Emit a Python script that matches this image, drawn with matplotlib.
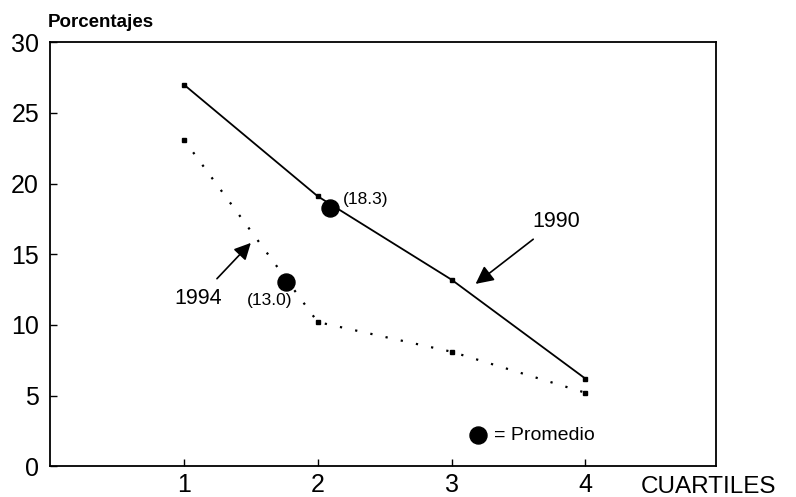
import matplotlib.pyplot as plt

plt.rcParams['font.family'] = ['Liberation Sans', 'DejaVu Sans']

# datos
cuartiles = [1, 2, 3, 4]
serie_1990 = [27.0, 19.1, 13.2, 6.2]
serie_1994 = [23.1, 10.2, 8.1, 5.2]
promedio_x = [2.09, 1.76]
promedio_y = [18.3, 13.0]
promedio_txt = ['(18.3)', '(13.0)']

fig = plt.figure(figsize=(7.96, 4.97), dpi=100)
ax = fig.add_axes([0.063, 0.062, 0.837, 0.853])

ax.plot(cuartiles, serie_1990, color='black', lw=1.3, marker='s', ms=3.5)
ax.plot(cuartiles, serie_1994, color='black', lw=1.6, linestyle=(0, (1, 6)),
        marker='s', ms=3.5)
ax.scatter(promedio_x, promedio_y, s=150, color='black', zorder=5)

ax.text(promedio_x[0] + 0.1, promedio_y[0] + 0.6, promedio_txt[0], fontsize=12.5,
        va='center', ha='left')
ax.text(promedio_x[1] - 0.12, promedio_y[1] - 1.3, promedio_txt[1], fontsize=12.5,
        va='center', ha='center')

# flechas de las series
ax.annotate('1990', xy=(3.18, 12.9), xytext=(3.78, 17.3), fontsize=15.5,
            ha='center', va='center',
            arrowprops=dict(arrowstyle='-|>', color='black', lw=1.2,
                            mutation_scale=27, shrinkA=5, shrinkB=0))
ax.annotate('1994', xy=(1.5, 15.8), xytext=(1.11, 11.9), fontsize=15.5,
            ha='center', va='center',
            arrowprops=dict(arrowstyle='-|>', color='black', lw=1.2,
                            mutation_scale=25, shrinkA=6, shrinkB=0))

# leyenda del promedio
ax.scatter([3.2], [2.2], s=150, color='black')
ax.text(3.32, 2.2, '= Promedio', fontsize=14, va='center', ha='left')

ax.set_xlim(0, 4.98)
ax.set_ylim(0, 30)
ax.set_xticks(cuartiles)
ax.set_yticks([0, 5, 10, 15, 20, 25, 30])
ax.tick_params(direction='in', labelsize=18, length=5, width=1)
ax.tick_params(axis='y', pad=8)
ax.tick_params(axis='x', pad=5)
for s in ax.spines.values():
    s.set_linewidth(1.3)

fig.text(0.06, 0.955, 'Porcentajes', fontsize=13.5, fontweight='bold',
         va='center', ha='left')
fig.text(0.805, 0.02, 'CUARTILES', fontsize=17.5, va='center', ha='left')

fig.savefig('out.png', dpi=100)
